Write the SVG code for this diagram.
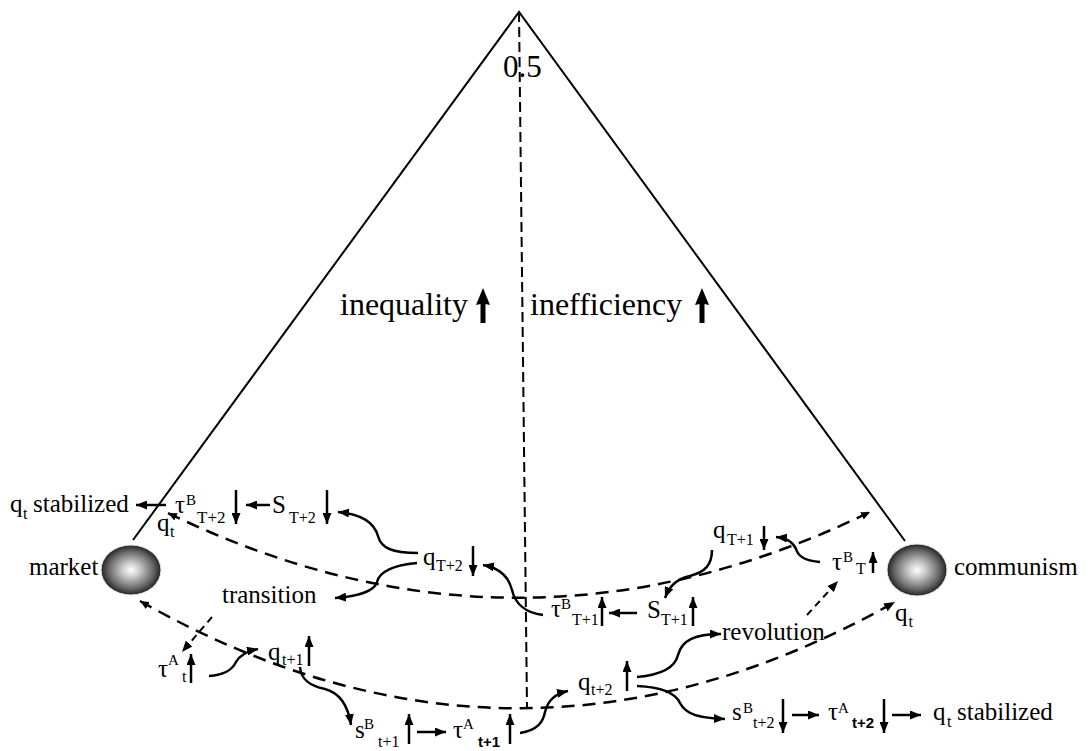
<svg xmlns="http://www.w3.org/2000/svg" width="1089" height="751" viewBox="0 0 1089 751">
<style>
text{font-family:"Liberation Serif","Times New Roman",serif;fill:#000}
.m{font-size:25px}
.big{font-size:32px}
.sub{font-size:16px}
.sup{font-size:15px}
.sb{font-family:"Liberation Sans",Arial,sans-serif;font-size:15px;font-weight:bold}
.ln{fill:none;stroke:#000;stroke-width:2}
.arc{fill:none;stroke:#000;stroke-width:2.5;stroke-dasharray:13 8}
.vd{fill:none;stroke:#000;stroke-width:2;stroke-dasharray:10 5}
.sa{fill:none;stroke:#000;stroke-width:2.5;marker-end:url(#h)}
.da{fill:none;stroke:#000;stroke-width:2;stroke-dasharray:7 5;marker-end:url(#h)}
</style>
<defs>
<marker id="h" viewBox="0 0 10 10" refX="10" refY="5" markerWidth="11" markerHeight="9" markerUnits="userSpaceOnUse" orient="auto" preserveAspectRatio="none"><path d="M0,0 L10,5 L0,10 z" fill="#000"/></marker>
<marker id="hs" viewBox="0 0 10 10" refX="10" refY="5" markerWidth="9" markerHeight="8" markerUnits="userSpaceOnUse" orient="auto-start-reverse" preserveAspectRatio="none"><path d="M0,0 L10,5 L0,10 z" fill="#000"/></marker>
<radialGradient id="ball" cx="50%" cy="50%" r="50%">
<stop offset="0" stop-color="#ffffff"/>
<stop offset="0.3" stop-color="#c8c8c8"/>
<stop offset="0.75" stop-color="#666666"/>
<stop offset="1" stop-color="#222222"/>
</radialGradient>
</defs>

<g id="frame">
<path class="ln" d="M133,540 L519,12 L905,541"/>
<path class="vd" d="M519,12 L527,707"/>
</g>

<g id="label-05"><text x="503" y="77" style="font-size:31px">0.5</text></g>
<g id="label-inequality">
<text class="big" x="340" y="315">inequality</text>
<path d="M483,288 L490,305 L485.5,304 L485.5,323 L480.5,323 L480.5,304 L476,305 Z" fill="#000"/>
</g>
<g id="label-inefficiency">
<text class="big" x="530" y="315">inefficiency</text>
<path d="M702,288 L709,305 L704.5,304 L704.5,323 L699.5,323 L699.5,304 L695,305 Z" fill="#000"/>
</g>

<g id="market">
<ellipse cx="131" cy="570" rx="30" ry="25" fill="url(#ball)" stroke="#e8e8e8" stroke-width="1"/>
<text class="m" x="29" y="575">market</text>
</g>
<g id="communism">
<ellipse cx="917" cy="570" rx="30" ry="26" fill="url(#ball)" stroke="#e8e8e8" stroke-width="1"/>
<text class="m" x="954" y="575">communism</text>
</g>

<g id="qt-stabilized-left"><text class="m" x="10" y="512">q</text><text class="sub" x="23" y="519">t</text><text class="m" x="33" y="512">stabilized</text></g>
<g id="tauB-T2"><text class="m" x="175" y="513">τ</text><text class="sup" x="186" y="505">B</text><text class="sub" x="197" y="523" style="font-size:17px">T+2</text></g>
<g id="S-T2"><text class="m" x="272" y="513">S</text><text class="sub" x="289" y="523">T+2</text></g>
<g id="qt-market"><text class="m" x="157" y="531">q</text><text class="sub" x="170" y="537">t</text></g>
<g id="transition"><text class="m" x="222" y="603">transition</text></g>
<g id="q-T2"><text class="m" x="423" y="565">q</text><text class="sub" x="436" y="571">T+2</text></g>
<g id="tauB-T1"><text class="m" x="551" y="617">τ</text><text class="sup" x="561" y="609">B</text><text class="sub" x="572" y="625">T+1</text></g>
<g id="S-T1"><text class="m" x="647" y="618">S</text><text class="sub" x="661" y="625">T+1</text></g>
<g id="q-T1"><text class="m" x="713" y="538">q</text><text class="sub" x="727" y="545">T+1</text></g>
<g id="tauB-T"><text class="m" x="832" y="570">τ</text><text class="sup" x="843" y="562">B</text><text class="sub" x="856" y="574">T</text></g>
<g id="qt-communism"><text class="m" x="895" y="621">q</text><text class="sub" x="908.5" y="627">t</text></g>
<g id="revolution"><text class="m" x="722" y="640">revolution</text></g>
<g id="tauA-t"><text class="m" x="158" y="677">τ</text><text class="sup" x="168" y="665">A</text><text class="sub" x="182" y="682">t</text></g>
<g id="q-t1"><text class="m" x="268" y="660">q</text><text class="sub" x="282" y="665">t+1</text></g>
<g id="sB-t1"><text class="m" x="355" y="738">s</text><text class="sup" x="364" y="729">B</text><text class="sub" x="378" y="747">t+1</text></g>
<g id="tauA-t1"><text class="m" x="453" y="738">τ</text><text class="sup" x="463" y="729">A</text><text class="sb" x="478" y="747">t+1</text></g>
<g id="q-t2"><text class="m" x="578" y="690">q</text><text class="sub" x="591" y="695">t+2</text></g>
<g id="sB-t2"><text class="m" x="732" y="720">s</text><text class="sup" x="743" y="713">B</text><text class="sub" x="753" y="728">t+2</text></g>
<g id="tauA-t2"><text class="m" x="828" y="720">τ</text><text class="sup" x="838" y="713">A</text><text class="sb" x="852" y="728">t+2</text></g>
<g id="qt-stabilized-right"><text class="m" x="933" y="720">q</text><text class="sub" x="947" y="727">t</text><text class="m" x="957" y="720">stabilized</text></g>

<g id="connectors">
<path class="arc" d="M168,513 Q519,683 870,512" marker-start="url(#hs)" marker-end="url(#hs)"/>
<path class="arc" d="M140,601 Q517,815 895,602" marker-start="url(#hs)" marker-end="url(#h)"/>
<path class="sa" d="M418,553 C392,553 381,548 378,536 C374,522 360,514 338,512"/>
<path class="sa" d="M417,563 C395,565 380,570 377,582 C374,592 358,596 335,598"/>
<path class="sa" d="M543,615 C525,613 515,603 512,590 C509,578 500,568 483,565"/>
<path class="sa" d="M209,676 C225,675 232,670 236,662 C240,654 248,651 258,649"/>
<path class="sa" d="M300,667 C301,680 310,686 325,689 C340,693 348,705 351,725"/>
<path class="sa" d="M520,733 C538,730 543,722 545,712 C548,700 555,694 568,691"/>
<path class="sa" d="M637,677 C660,675 675,668 678,655 C682,640 695,634 721,634"/>
<path class="sa" d="M637,686 C660,687 675,692 680,703 C686,715 700,718 725,719"/>
<path class="sa" d="M820,562 C805,561 798,556 796,549 C793,542 787,538 776,537"/>
<path class="sa" d="M712,550 C712,565 705,572 690,576 C677,579 670,585 665,598"/>
<path class="da" d="M212,617 L182,652"/>
<path class="da" d="M807,615 L838,581"/>
<path class="sa" d="M166,505 L136,505"/>
<path class="sa" d="M270,505 L246,505"/>
<path class="sa" d="M637,613 L609,613"/>
<path class="sa" d="M417,732 L446,732"/>
<path class="sa" d="M792,715 L819,715"/>
<path class="sa" d="M892,715 L921,715"/>
<path class="sa" d="M236,490 L236,524"/>
<path class="sa" d="M327,490 L327,524"/>
<path class="sa" d="M473,546 L473,576"/>
<path class="sa" d="M602,626 L602,597"/>
<path class="sa" d="M693,626 L693,597"/>
<path class="sa" d="M764,526 L764,550"/>
<path class="sa" d="M873,573 L873,552"/>
<path class="sa" d="M191,683 L191,654"/>
<path class="sa" d="M309,666 L309,636"/>
<path class="sa" d="M409,744 L409,714"/>
<path class="sa" d="M510,744 L510,714"/>
<path class="sa" d="M627,691 L627,661"/>
<path class="sa" d="M783,699 L783,733"/>
<path class="sa" d="M884,699 L884,733"/>
</g>
</svg>
